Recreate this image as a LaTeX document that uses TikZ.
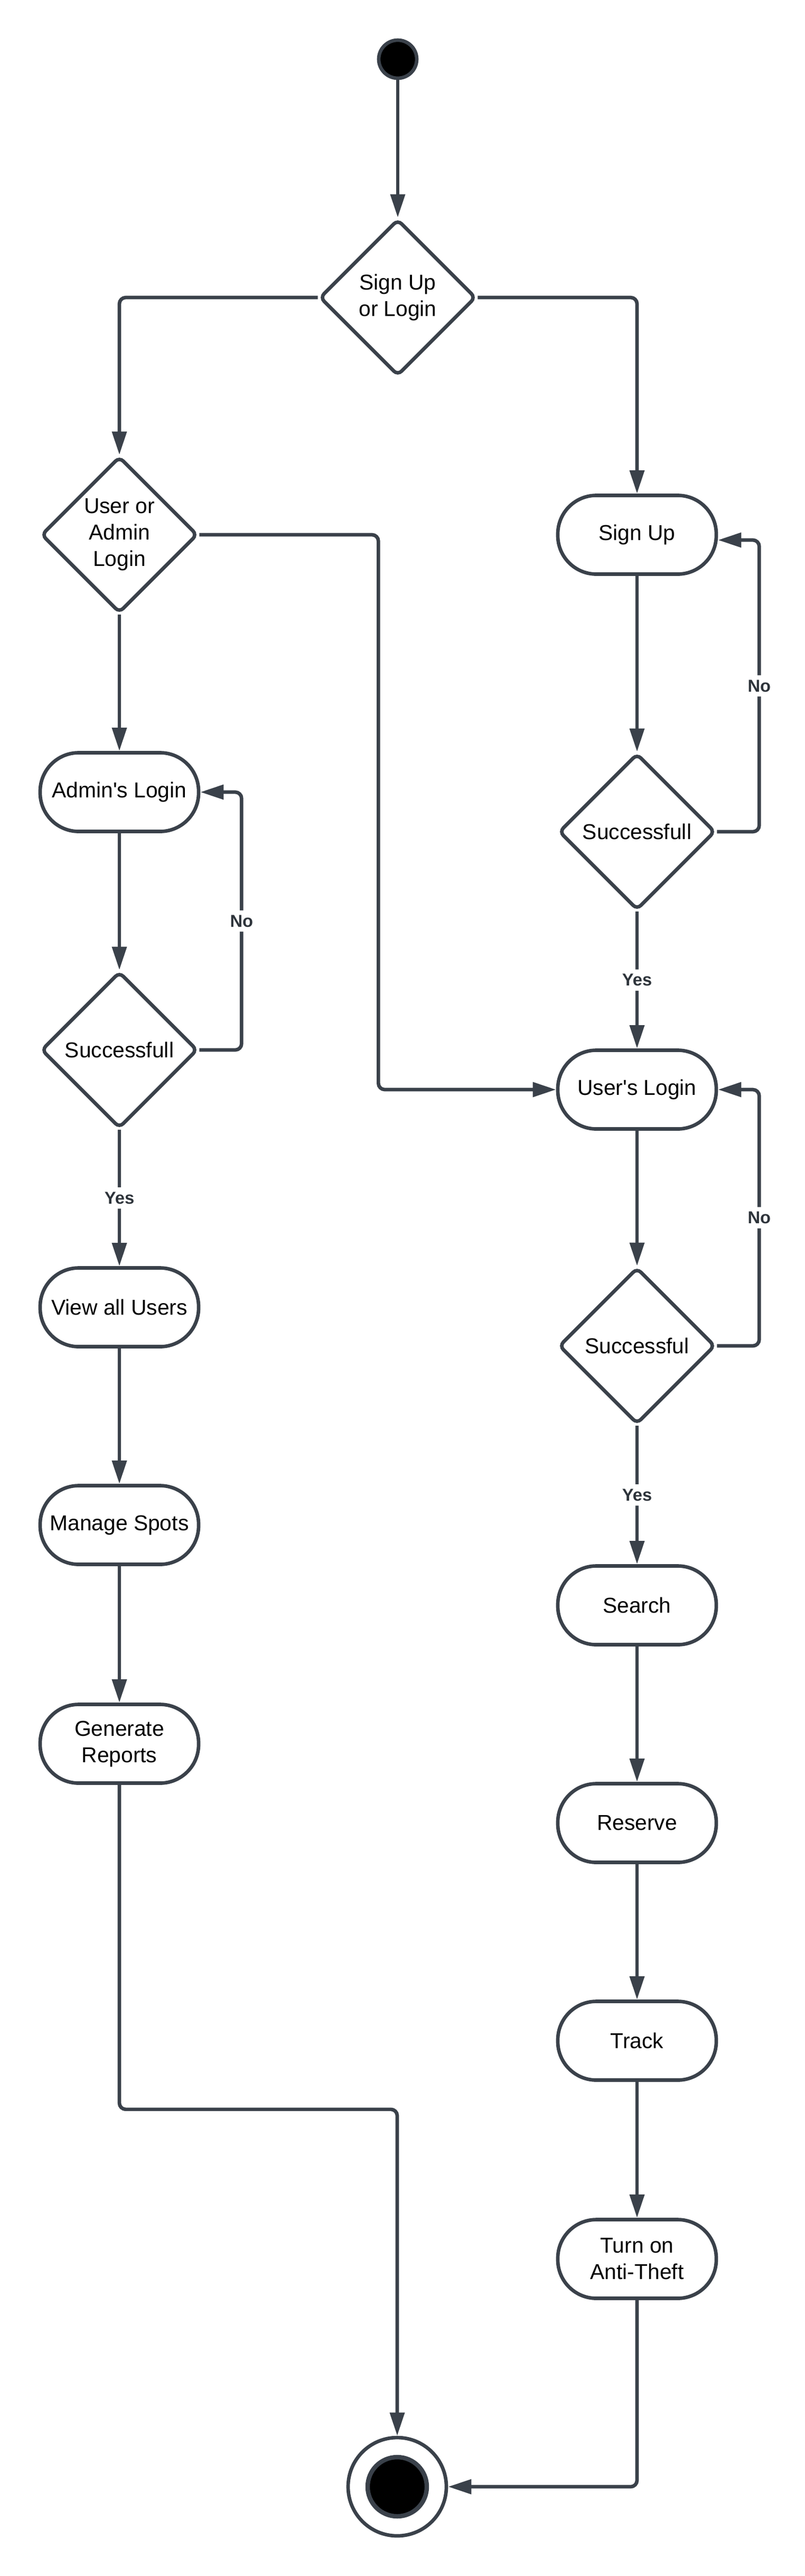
\documentclass[tikz,border=0pt]{standalone}
\usepackage{fontspec}
\setmainfont{Liberation Sans}
\usepackage{xcolor}
\usetikzlibrary{arrows.meta, shapes.geometric}
\definecolor{edge}{HTML}{3A414A}

\tikzset{
    action/.style={rectangle, rounded corners=0.73cm, draw=edge, line width=1.9pt, fill=white,
        minimum width=3.0cm, minimum height=1.49cm, align=center,
        font=\fontsize{11.6}{14.2}\selectfont},
    decision/.style={diamond, aspect=1, rounded corners=1mm, draw=edge, line width=1.9pt, fill=white,
        minimum width=2.96cm, minimum height=2.96cm, inner sep=0pt, align=center,
        font=\fontsize{11.6}{14.2}\selectfont},
    initial/.style={circle, draw=edge, fill=black, line width=1.9pt, minimum size=0.72cm, inner sep=0pt},
    final/.style={circle, draw=edge, fill=white, line width=1.9pt, minimum size=1.86cm, inner sep=0pt},
    finaldot/.style={circle, draw=edge, fill=black, line width=2.4pt, minimum size=1.12cm, inner sep=0pt},
    flow/.style={-{Triangle[length=0.44cm, width=0.27cm]}, draw=edge, line width=1.9pt, rounded corners=1.2mm},
    guard/.style={fill=white, text=edge!80!black, inner sep=2.5pt, font=\bfseries\fontsize{9.3}{11}\selectfont}
}

\begin{document}
\begin{tikzpicture}
            \useasboundingbox (0, 0) rectangle (15.24, -48.75);

            \node[initial] at (7.53, -1.12)   (start) {};
            \node[decision] at (7.53, -5.63)   (d1) {Sign Up\\or Login};
            \node[decision] at (2.26, -10.12)   (d2) {User or\\Admin\\Login};
            \node[action] at (12.06, -10.12)   (su) {Sign Up};
            \node[decision] at (12.06, -15.74)   (ss) {Successfull};
            \node[action] at (12.06, -20.62)   (ul) {User\textquotesingle s Login};
            \node[decision] at (12.06, -25.47)   (sl) {Successful};
            \node[action] at (12.06, -30.38)   (se) {Search};
            \node[action] at (12.06, -34.50)   (re) {Reserve};
            \node[action] at (12.06, -38.62)   (tr) {Track};
            \node[action] at (12.06, -42.75)   (at) {Turn on\\Anti-Theft};
            \node[action] at (2.26, -14.99)   (al) {Admin\textquotesingle s Login};
            \node[decision] at (2.26, -19.87)   (sa) {Successfull};
            \node[action] at (2.26, -24.74)   (vu) {View all Users};
            \node[action] at (2.26, -28.86)   (ms) {Manage Spots};
            \node[action] at (2.26, -33.00)   (gr) {Generate\\Reports};
            \node[final] at (7.52, -47.06)   (end) {};
            \node[finaldot] at (end)   (enddot) {};

            \draw [flow] (start) -- (d1);
            \draw [flow] (d1.west) -| (d2.north);
            \draw [flow] (d1.east) -| (su.north);
            \draw [flow] (d2.east) -- ++(3.39, 0) |- (ul.west);
            \draw [flow] (d2) -- (al);
            \draw [flow] (al) -- (sa);
            \draw [flow] (sa.east) -- ++(0.8, 0) |- node[guard, pos=0.25] {No} (al.east);
            \draw [flow] (sa) -- node[guard] {Yes} (vu);
            \draw [flow] (vu) -- (ms);
            \draw [flow] (ms) -- (gr);
            \draw [flow] (gr.south) -- ++(0, -6.14) -| (end.north);
            \draw [flow] (su) -- (ss);
            \draw [flow] (ss.east) -- ++(0.8, 0) |- node[guard, pos=0.25] {No} ([yshift=-0.1cm]su.east);
            \draw [flow] (ss) -- node[guard] {Yes} (ul);
            \draw [flow] (ul) -- (sl);
            \draw [flow] (sl.east) -- ++(0.8, 0) |- node[guard, pos=0.25] {No} (ul.east);
            \draw [flow] (sl) -- node[guard] {Yes} (se);
            \draw [flow] (se) -- (re);
            \draw [flow] (re) -- (tr);
            \draw [flow] (tr) -- (at);
            \draw [flow] (at.south) |- (end.east);
        \end{tikzpicture}
\end{document}
